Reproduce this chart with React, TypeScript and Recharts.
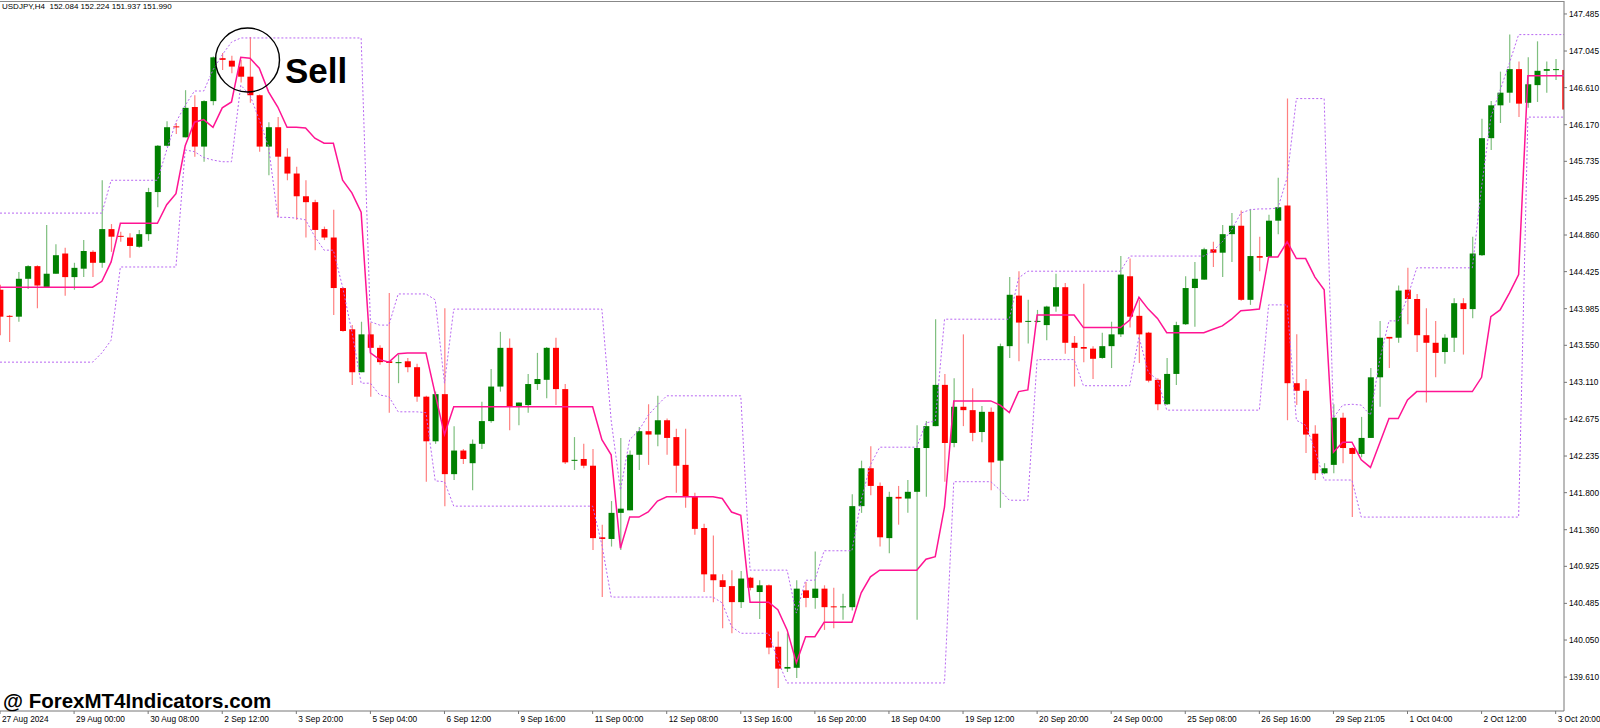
import React from 'react'
import { ComposedChart, Bar, Line, XAxis, YAxis } from 'recharts'

// USDJPY H4 candles, 27 Aug 16:00 -> 3 Oct 24:00 (one entry per bar)
const opens = [
  144.21, 143.90, 143.89, 144.34, 144.49, 144.24, 144.40, 144.64, 144.36, 144.46,
  144.66, 144.53, 144.93, 144.85, 144.83, 144.72, 144.87, 145.37, 145.92, 146.15,
  146.02, 146.38, 145.91, 146.45, 146.96, 146.93, 146.86, 146.74, 146.52, 145.91,
  146.14, 145.79, 145.59, 145.32, 145.25, 144.93, 144.83, 144.23, 143.74, 143.23,
  143.68, 143.52, 143.36, 143.34, 143.36, 143.29, 142.94, 142.41, 142.97, 142.02,
  142.30, 142.15, 142.38, 142.65, 143.06, 143.52, 142.82, 142.84, 143.09, 143.14,
  143.52, 143.03, 142.18, 142.20, 142.12, 141.27, 141.25, 141.56, 141.59, 142.25,
  142.53, 142.49, 142.66, 142.46, 142.13, 141.76, 141.38, 140.83, 140.76, 140.69,
  140.50, 140.79, 140.62, 140.70, 139.97, 139.71, 139.72, 140.64, 140.55, 140.66,
  140.45, 140.44, 140.44, 141.64, 142.09, 141.88, 141.26, 141.75, 141.73, 141.81,
  142.33, 142.59, 143.08, 142.39, 142.82, 142.78, 142.52, 142.76, 142.18, 143.54,
  144.14, 143.83, 143.83, 143.79, 144.01, 144.24, 143.58, 143.53, 143.51, 143.40,
  143.54, 143.68, 144.37, 143.90, 143.70, 143.14, 142.85, 143.21, 143.80, 144.23,
  144.33, 144.69, 144.65, 144.87, 144.97, 144.09, 144.61, 144.60, 145.03, 145.21,
  143.10, 143.01, 142.50, 142.03, 142.13, 142.69, 142.33, 142.26, 142.45, 143.17,
  143.65, 143.64, 144.21, 144.10, 143.67, 143.58, 143.47, 143.64, 144.05, 143.98,
  144.62, 146.01, 146.40, 146.55, 146.83, 146.43, 146.64, 146.81, 146.82, 146.82,
]

const highs = [
  144.27, 143.91, 144.42, 144.50, 144.50, 144.98, 144.75, 144.71, 144.53, 144.80,
  144.68, 145.51, 144.99, 144.90, 144.88, 144.92, 145.42, 145.93, 146.21, 146.19,
  146.58, 146.52, 146.46, 146.98, 147.02, 146.99, 146.94, 147.21, 146.53, 146.20,
  146.26, 145.89, 145.67, 145.51, 145.28, 144.96, 145.16, 144.24, 143.79, 143.83,
  143.82, 143.55, 144.17, 143.44, 143.40, 143.33, 142.95, 143.00, 143.99, 142.59,
  142.32, 142.43, 142.88, 143.27, 143.71, 143.63, 142.87, 143.21, 143.46, 143.53,
  143.64, 143.09, 142.46, 142.38, 142.32, 141.42, 141.70, 142.45, 142.30, 142.58,
  142.85, 142.95, 142.68, 142.56, 142.56, 141.80, 141.43, 141.29, 140.83, 140.88,
  140.87, 140.80, 140.76, 140.71, 140.15, 140.13, 140.76, 140.74, 141.10, 140.70,
  140.67, 140.60, 141.78, 142.18, 142.35, 141.92, 141.81, 141.88, 141.95, 142.60,
  142.65, 143.86, 143.21, 143.16, 143.68, 143.04, 142.83, 142.81, 143.57, 144.36,
  144.43, 144.09, 143.97, 144.02, 144.40, 144.29, 143.66, 144.28, 143.54, 143.70,
  143.83, 144.61, 144.58, 144.09, 143.71, 143.16, 143.40, 143.83, 144.37, 144.54,
  144.71, 144.78, 144.98, 145.12, 145.15, 145.17, 144.84, 145.10, 145.54, 146.48,
  143.68, 143.15, 142.60, 142.15, 142.85, 142.75, 142.34, 142.70, 143.28, 143.84,
  143.65, 144.26, 144.47, 144.16, 143.99, 143.84, 143.68, 144.11, 144.11, 144.84,
  146.24, 146.45, 146.80, 147.24, 146.92, 146.97, 147.16, 146.92, 146.95, 146.92,
]

const lows = [
  143.67, 143.59, 143.83, 144.22, 143.99, 144.24, 144.40, 144.14, 144.21, 144.36,
  144.36, 144.47, 144.66, 144.78, 144.59, 144.71, 144.79, 145.19, 145.91, 146.06,
  146.02, 145.79, 145.73, 146.40, 146.82, 146.78, 146.67, 146.43, 145.85, 145.57,
  145.07, 145.51, 145.04, 144.83, 144.68, 144.80, 143.91, 143.71, 143.08, 143.23,
  142.94, 143.32, 142.75, 143.10, 143.23, 142.88, 141.93, 142.38, 141.64, 141.95,
  142.14, 141.83, 142.32, 142.63, 143.00, 142.54, 142.60, 142.75, 143.02, 142.92,
  142.84, 142.14, 142.07, 142.09, 141.12, 140.56, 141.16, 141.12, 141.59, 142.07,
  142.13, 142.35, 142.25, 141.80, 141.62, 141.30, 140.62, 140.50, 140.19, 140.13,
  140.43, 140.64, 140.30, 139.88, 139.48, 139.67, 139.60, 140.44, 140.42, 140.17,
  140.19, 140.29, 140.40, 141.56, 141.77, 141.16, 141.08, 141.42, 141.56, 140.29,
  141.75, 142.59, 141.93, 142.34, 142.59, 142.41, 142.40, 141.83, 141.62, 143.40,
  143.36, 143.57, 143.82, 143.61, 143.95, 143.45, 143.06, 143.35, 143.15, 143.39,
  143.28, 143.65, 143.76, 143.34, 143.11, 142.78, 142.84, 143.08, 143.79, 143.77,
  144.33, 144.48, 144.36, 144.54, 144.08, 144.03, 144.43, 144.60, 144.87, 142.66,
  142.84, 142.27, 141.95, 142.02, 142.03, 142.15, 141.51, 142.22, 142.45, 142.82,
  143.28, 143.58, 143.80, 143.47, 142.87, 143.17, 143.33, 143.47, 143.44, 143.87,
  144.61, 145.87, 146.19, 146.43, 146.26, 146.37, 146.44, 146.55, 146.70, 146.34,
]

const closes = [
  143.89, 143.89, 144.34, 144.49, 144.26, 144.40, 144.62, 144.36, 144.47, 144.67,
  144.53, 144.93, 144.84, 144.84, 144.73, 144.87, 145.37, 145.92, 146.14, 146.14,
  146.37, 145.91, 146.45, 146.97, 146.94, 146.86, 146.74, 146.52, 145.91, 146.14,
  145.79, 145.59, 145.32, 145.25, 144.92, 144.83, 144.23, 143.72, 143.23, 143.68,
  143.52, 143.35, 143.34, 143.35, 143.29, 142.94, 142.41, 142.97, 142.02, 142.30,
  142.20, 142.38, 142.65, 143.06, 143.52, 142.82, 142.87, 143.09, 143.15, 143.52,
  143.03, 142.16, 142.19, 142.12, 141.26, 141.25, 141.56, 141.61, 142.25, 142.53,
  142.49, 142.66, 142.45, 142.12, 141.76, 141.37, 140.83, 140.76, 140.68, 140.50,
  140.78, 140.67, 140.70, 139.96, 139.71, 139.73, 140.66, 140.55, 140.66, 140.44,
  140.44, 140.45, 141.64, 142.09, 141.88, 141.27, 141.75, 141.73, 141.81, 142.33,
  142.59, 143.08, 142.39, 142.82, 142.78, 142.51, 142.76, 142.16, 143.54, 144.15,
  143.82, 143.84, 143.84, 144.01, 144.24, 143.58, 143.52, 143.51, 143.39, 143.54,
  143.68, 144.39, 143.89, 143.68, 143.13, 142.85, 143.21, 143.79, 144.23, 144.34,
  144.69, 144.65, 144.87, 144.97, 144.09, 144.61, 144.59, 145.03, 145.19, 143.10,
  143.01, 142.49, 142.03, 142.09, 142.69, 142.33, 142.26, 142.45, 143.17, 143.64,
  143.63, 144.20, 144.10, 143.67, 143.58, 143.46, 143.64, 144.05, 143.98, 144.64,
  146.01, 146.40, 146.55, 146.83, 146.42, 146.65, 146.81, 146.83, 146.83, 146.35,
]

// pink signal line
const maLine = [
  144.24, 144.24, 144.24, 144.24, 144.24, 144.24, 144.24, 144.24, 144.24, 144.24,
  144.24, 144.31, 144.54, 145.00, 145.00, 145.00, 145.00, 145.00, 145.22, 145.35,
  145.92, 146.20, 146.23, 146.14, 146.37, 146.44, 146.97, 146.96, 146.84, 146.56,
  146.38, 146.14, 146.14, 146.13, 146.01, 145.95, 145.95, 145.51, 145.36, 145.13,
  143.46, 143.38, 143.35, 143.45, 143.46, 143.46, 143.46, 142.97, 142.49, 142.82,
  142.82, 142.82, 142.82, 142.82, 142.82, 142.82, 142.82, 142.82, 142.82, 142.82,
  142.82, 142.82, 142.82, 142.82, 142.82, 142.43, 142.25, 141.14, 141.51, 141.51,
  141.57, 141.70, 141.75, 141.75, 141.75, 141.75, 141.75, 141.75, 141.73, 141.57,
  141.53, 140.50, 140.50, 140.50, 140.41, 140.17, 139.78, 140.09, 140.09, 140.26,
  140.26, 140.26, 140.26, 140.61, 140.80, 140.88, 140.88, 140.88, 140.88, 140.88,
  141.01, 141.04, 141.63, 142.89, 142.89, 142.89, 142.89, 142.89, 142.84, 142.75,
  143.00, 143.02, 143.91, 143.91, 143.91, 143.91, 143.91, 143.76, 143.76, 143.76,
  143.76, 143.76, 143.85, 144.12, 143.98, 143.87, 143.70, 143.70, 143.70, 143.70,
  143.70, 143.74, 143.78, 143.86, 143.96, 143.97, 143.98, 144.60, 144.60, 144.78,
  144.58, 144.58, 144.36, 144.21, 142.28, 142.40, 142.40, 142.19, 142.10, 142.39,
  142.68, 142.68, 142.90, 143.00, 143.00, 143.00, 143.00, 143.00, 143.00, 143.00,
  143.17, 143.89, 143.97, 144.17, 144.39, 146.75, 146.75, 146.75, 146.75, 146.75,
]

// dotted channel, upper side
const upperBand = [
  145.12, 145.12, 145.12, 145.12, 145.12, 145.12, 145.12, 145.12, 145.12, 145.12,
  145.12, 145.12, 145.51, 145.51, 145.51, 145.51, 145.51, 145.51, 145.87, 146.20,
  146.40, 146.57, 146.57, 146.82, 147.00, 147.15, 147.20, 147.20, 147.20, 147.20,
  147.20, 147.20, 147.20, 147.20, 147.20, 147.20, 147.20, 147.20, 147.20, 147.20,
  143.83, 143.79, 143.79, 144.16, 144.16, 144.16, 144.16, 144.09, 143.10, 143.98,
  143.98, 143.98, 143.98, 143.98, 143.98, 143.98, 143.98, 143.98, 143.98, 143.98,
  143.98, 143.98, 143.98, 143.98, 143.98, 143.98, 142.66, 141.83, 142.43, 142.54,
  142.72, 142.84, 142.95, 142.95, 142.95, 142.95, 142.95, 142.95, 142.95, 142.95,
  142.95, 140.88, 140.88, 140.88, 140.88, 140.88, 140.37, 140.76, 140.76, 141.11,
  141.11, 141.11, 141.11, 141.71, 142.13, 142.34, 142.34, 142.34, 142.34, 142.34,
  142.63, 142.65, 143.86, 143.86, 143.86, 143.86, 143.86, 143.86, 143.86, 143.86,
  144.35, 144.43, 144.43, 144.43, 144.43, 144.43, 144.43, 144.43, 144.43, 144.43,
  144.43, 144.43, 144.61, 144.61, 144.61, 144.61, 144.61, 144.61, 144.61, 144.61,
  144.61, 144.67, 144.78, 144.92, 145.12, 145.16, 145.17, 145.17, 145.18, 145.54,
  146.48, 146.48, 146.48, 146.48, 142.69, 142.84, 142.85, 142.84, 142.72, 143.38,
  143.84, 143.84, 144.12, 144.47, 144.47, 144.47, 144.47, 144.47, 144.47, 144.47,
  145.43, 146.26, 146.58, 146.90, 147.24, 147.24, 147.24, 147.24, 147.24, 147.24,
]

// dotted channel, lower side
const lowerBand = [
  143.35, 143.35, 143.35, 143.35, 143.35, 143.35, 143.35, 143.35, 143.35, 143.35,
  143.35, 143.46, 143.61, 144.48, 144.48, 144.48, 144.48, 144.48, 144.48, 144.48,
  145.87, 145.85, 145.78, 145.75, 145.73, 145.73, 146.64, 146.52, 146.23, 145.91,
  145.07, 145.07, 145.06, 145.04, 144.84, 144.68, 144.68, 144.24, 143.71, 143.10,
  143.10, 142.96, 142.94, 142.76, 142.76, 142.76, 142.75, 141.94, 141.93, 141.64,
  141.64, 141.64, 141.64, 141.64, 141.64, 141.64, 141.64, 141.64, 141.64, 141.64,
  141.64, 141.64, 141.64, 141.64, 141.64, 141.18, 140.56, 140.56, 140.56, 140.56,
  140.56, 140.56, 140.56, 140.56, 140.56, 140.56, 140.56, 140.56, 140.49, 140.21,
  140.13, 140.13, 140.13, 140.13, 139.81, 139.54, 139.54, 139.54, 139.54, 139.54,
  139.54, 139.54, 139.54, 139.54, 139.54, 139.54, 139.54, 139.54, 139.54, 139.54,
  139.54, 139.54, 139.54, 141.93, 141.93, 141.93, 141.93, 141.93, 141.83, 141.71,
  141.71, 141.71, 143.38, 143.38, 143.38, 143.38, 143.38, 143.07, 143.07, 143.07,
  143.07, 143.07, 143.07, 143.65, 143.23, 143.14, 142.78, 142.78, 142.78, 142.78,
  142.78, 142.78, 142.78, 142.78, 142.78, 142.78, 142.78, 144.03, 144.03, 144.03,
  142.66, 142.60, 142.31, 141.95, 141.95, 141.95, 141.95, 141.51, 141.51, 141.51,
  141.51, 141.51, 141.51, 141.51, 141.51, 141.51, 141.51, 141.51, 141.51, 141.51,
  141.51, 141.51, 141.51, 141.51, 141.51, 146.26, 146.26, 146.26, 146.26, 146.26,
]

const xTickIdx = [0, 8, 16, 24, 32, 40, 48, 56, 64, 72, 80, 88, 96, 104, 112, 120, 128, 136, 144, 152, 160, 168]
const xTickLabels = [
  '27 Aug 2024', '29 Aug 00:00', '30 Aug 08:00', '2 Sep 12:00', '3 Sep 20:00', '5 Sep 04:00',
  '6 Sep 12:00', '9 Sep 16:00', '11 Sep 00:00', '12 Sep 08:00', '13 Sep 16:00', '16 Sep 20:00',
  '18 Sep 04:00', '19 Sep 12:00', '20 Sep 20:00', '24 Sep 00:00', '25 Sep 08:00', '26 Sep 16:00',
  '29 Sep 21:05', '1 Oct 04:00', '2 Oct 12:00', '3 Oct 20:00',
]

const yTicks = [
  147.485, 147.045, 146.61, 146.17, 145.735, 145.295, 144.86, 144.425, 143.985, 143.55,
  143.11, 142.675, 142.235, 141.8, 141.36, 140.925, 140.485, 140.05, 139.61,
]

const FONT = "'Liberation Sans', Arial, sans-serif"
const BULL = '#008000'
const BEAR = '#ff0000'

const candleData = opens.map((o, i) => ({
  i,
  o,
  h: highs[i],
  l: lows[i],
  c: closes[i],
  range: [lows[i], highs[i]],
  ma: maLine[i],
  upper: upperBand[i],
  lower: lowerBand[i],
}))

const CandleShape = (props: any) => {
  const { x, y, width, height, payload } = props
  if (x == null || y == null || !payload) return null
  const { o, h, l, c } = payload
  const up = c >= o
  const span = h - l
  const k = span > 0 ? height / span : 0
  const cx = x + width / 2
  const top = y + (h - Math.max(o, c)) * k
  const bot = y + (h - Math.min(o, c)) * k
  const bodyH = Math.max(bot - top, 1)
  return (
    <g>
      <line x1={cx} x2={cx} y1={y} y2={y + height} stroke={up ? '#7fbf7f' : '#ff8080'} strokeWidth={1.2} />
      <rect x={x} y={top} width={width} height={bodyH} fill={up ? BULL : BEAR} />
    </g>
  )
}

const PriceTick = ({ x, y, payload }: any) => (
  <text x={x} y={y} dy={3} fontSize={8.3} fontFamily={FONT} fill="#000" textAnchor="start">
    {Number(payload.value).toFixed(3)}
  </text>
)

const TimeTick = ({ x, y, payload }: any) => {
  const k = xTickIdx.indexOf(payload.value)
  return (
    <text x={x + 2} y={y} dy={6} fontSize={8.3} fontFamily={FONT} fill="#000" textAnchor="start">
      {xTickLabels[k]}
    </text>
  )
}

export default function App() {
  return (
    <div style={{ position: 'absolute', left: 0, top: 0, width: 1600, height: 728, background: '#fff', overflow: 'hidden' }}>
      <ComposedChart width={1600} height={728} data={candleData} margin={{ top: 1, right: 0, bottom: 0, left: 0 }}>
        <XAxis
          dataKey="i"
          type="number"
          domain={[0, 168.9]}
          allowDataOverflow
          ticks={xTickIdx}
          interval={0}
          height={17}
          tickSize={3}
          tickMargin={2}
          tick={TimeTick}
          axisLine={{ stroke: '#777' }}
          tickLine={{ stroke: '#777' }}
        />
        <YAxis
          orientation="right"
          domain={[139.207, 147.639]}
          allowDataOverflow
          ticks={yTicks}
          interval={0}
          width={36}
          tickSize={3}
          tickMargin={2}
          tick={PriceTick}
          axisLine={{ stroke: '#777' }}
          tickLine={{ stroke: '#777' }}
        />
        <Bar dataKey="range" barSize={6} shape={CandleShape} isAnimationActive={false} />
        <Line type="linear" dataKey="upper" stroke="#b866f2" strokeWidth={1} strokeDasharray="2 2" dot={false} activeDot={false} isAnimationActive={false} />
        <Line type="linear" dataKey="lower" stroke="#b866f2" strokeWidth={1} strokeDasharray="2 2" dot={false} activeDot={false} isAnimationActive={false} />
        <Line type="linear" dataKey="ma" stroke="#ff1493" strokeWidth={1.5} dot={false} activeDot={false} isAnimationActive={false} />
      </ComposedChart>

      <div style={{ position: 'absolute', left: 0, top: 1, width: 1564, height: 1, background: '#888' }} />

      <div style={{ position: 'absolute', left: 2, top: 2, fontFamily: FONT, fontSize: 8, lineHeight: '10px', color: '#000', whiteSpace: 'pre' }}>
        {'USDJPY,H4  152.084 152.224 151.937 151.990'}
      </div>

      <svg width={1600} height={728} style={{ position: 'absolute', left: 0, top: 0, pointerEvents: 'none' }}>
        <circle cx={247.5} cy={60} r={32} fill="none" stroke="#000" strokeWidth={1.4} />
        <text x={285} y={83} fontFamily={FONT} fontWeight={700} fontSize={35} fill="#000">Sell</text>
      </svg>

      <div style={{ position: 'absolute', left: 3, top: 689, fontFamily: FONT, fontWeight: 700, fontSize: 20.5, lineHeight: '24px', color: '#000', whiteSpace: 'pre' }}>
        {'@ ForexMT4Indicators.com'}
      </div>
    </div>
  )
}
